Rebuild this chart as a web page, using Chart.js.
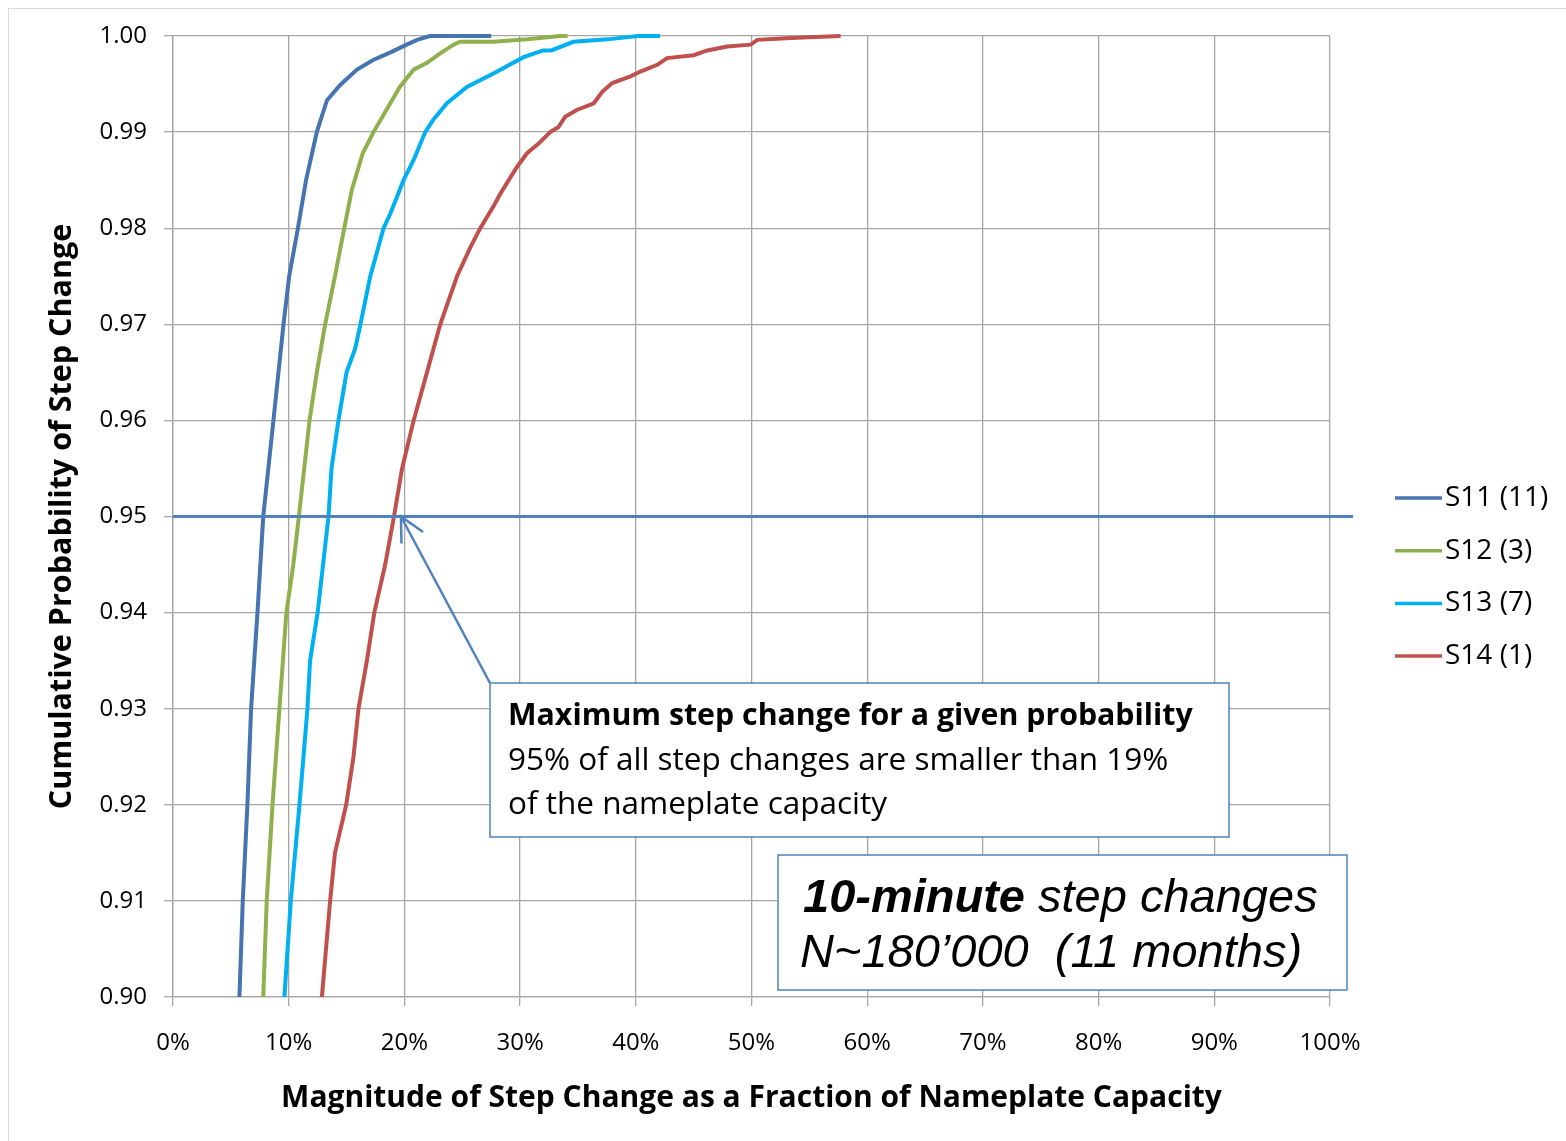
<!DOCTYPE html>
<html>
<head>
<meta charset="utf-8">
<script src="https://cdn.jsdelivr.net/npm/chart.js@4.4.1/dist/chart.umd.min.js"></script>
<style>
  html, body { margin: 0; padding: 0; background: #fff; overflow: hidden; }
  #wrap { position: relative; width: 1566px; height: 1141px; }
  #frame { position: absolute; left: 8px; top: 8px; width: 1700px; height: 1300px;
           border: 1px solid #D9D9D9; box-sizing: border-box; }
  canvas { position: absolute; left: 0; top: 0; }
</style>
</head>
<body>
<div id="wrap">
  <div id="frame"></div>
  <canvas id="chart" width="1566" height="1141"></canvas>
</div>
<script>
// Cumulative distributions of 10-minute step changes per site
const seriesNames = ['S11 (11)', 'S12 (3)', 'S13 (7)', 'S14 (1)'];

const s11Step = [0.0574, 0.0603, 0.0643, 0.0675, 0.073, 0.078, 0.0868, 0.0955, 0.1004, 0.108, 0.115, 0.1243, 0.133, 0.1445, 0.159, 0.173, 0.188, 0.202, 0.211, 0.222, 0.275];
const s11Prob = [0.90, 0.91, 0.92, 0.93, 0.94, 0.95, 0.96, 0.97, 0.975, 0.98, 0.985, 0.99, 0.9933, 0.9949, 0.9965, 0.9975, 0.9983, 0.9991, 0.9996, 1.0, 1.0];

const s12Step = [0.078, 0.081, 0.086, 0.092, 0.098, 0.104, 0.1088, 0.118, 0.1243, 0.1315, 0.140, 0.148, 0.1546, 0.164, 0.1733, 0.1878, 0.196, 0.208, 0.2195, 0.231, 0.2425, 0.248, 0.277, 0.306, 0.335, 0.341];
const s12Prob = [0.90, 0.91, 0.92, 0.93, 0.94, 0.945, 0.95, 0.96, 0.965, 0.97, 0.975, 0.98, 0.984, 0.9878, 0.99, 0.993, 0.9947, 0.9965, 0.9972, 0.9982, 0.9991, 0.9994, 0.9994, 0.99965, 1.0, 1.0];

const s13Step = [0.0963, 0.1018, 0.1093, 0.1128, 0.1162, 0.1185, 0.125, 0.1344, 0.137, 0.143, 0.150, 0.1575, 0.162, 0.1705, 0.182, 0.1878, 0.1993, 0.208, 0.218, 0.225, 0.2368, 0.254, 0.277, 0.303, 0.320, 0.327, 0.346, 0.3755, 0.4015, 0.421];
const s13Prob = [0.90, 0.91, 0.92, 0.925, 0.93, 0.935, 0.94, 0.95, 0.955, 0.96, 0.965, 0.9675, 0.97, 0.975, 0.98, 0.9815, 0.985, 0.9871, 0.99, 0.9913, 0.993, 0.9947, 0.9961, 0.9978, 0.9985, 0.9985, 0.9994, 0.99965, 1.0, 1.0];

const s14Step = [0.1287, 0.1358, 0.140, 0.1497, 0.156, 0.1603, 0.1676, 0.174, 0.1834, 0.191, 0.198, 0.208, 0.2195, 0.231, 0.2455, 0.257, 0.2656, 0.278, 0.283, 0.2974, 0.306, 0.316, 0.326, 0.333, 0.339, 0.349, 0.3637, 0.371, 0.3796, 0.3954, 0.404, 0.4185, 0.427, 0.45, 0.4618, 0.479, 0.4993, 0.505, 0.534, 0.577];
const s14Prob = [0.90, 0.91, 0.915, 0.92, 0.925, 0.93, 0.935, 0.94, 0.945, 0.95, 0.955, 0.96, 0.965, 0.97, 0.975, 0.978, 0.98, 0.9825, 0.9836, 0.9864, 0.9878, 0.9888, 0.99, 0.9905, 0.9916, 0.9923, 0.993, 0.9942, 0.9951, 0.9958, 0.9963, 0.997, 0.9977, 0.998, 0.9985, 0.9989, 0.9991, 0.9996, 0.9998, 1.0];

// 95 % reference level and the point the call-out arrow marks
const refProbability = 0.95;
const refLineSpan = [0, 1.02];
const arrowTip = { step: 0.197, prob: 0.95 };

const xAxisTitle = 'Magnitude of Step Change as a Fraction of Nameplate Capacity';
const yAxisTitle = 'Cumulative Probability of Step Change';
const calloutTitle = 'Maximum step change for a given probability';
const calloutLines = ['95% of all step changes are smaller than 19%', 'of the nameplate capacity'];

const colors = ['#4674B0', '#8FB04C', '#00B0F0', '#C0504D'];
const refColor = '#4F81BD';
const gridColor = '#A6A6A6';
const calibriLike = "'Open Sans', 'Noto Sans', sans-serif";

const toPoints = (xs, ys) => xs.map((v, i) => ({ x: v, y: ys[i] }));
const seriesData = [
  toPoints(s11Step, s11Prob),
  toPoints(s12Step, s12Prob),
  toPoints(s13Step, s13Prob),
  toPoints(s14Step, s14Prob)
];

const datasets = [{
  label: 'ref',
  data: refLineSpan.map(v => ({ x: v, y: refProbability })),
  borderColor: refColor,
  borderWidth: 3,
  pointRadius: 0,
  clip: false
}].concat(seriesData.map((d, i) => ({
  label: seriesNames[i],
  data: d,
  borderColor: colors[i],
  borderWidth: 4,
  pointRadius: 0,
  tension: 0,
  clip: false
})));

// legend, call-out boxes and arrow
const overlay = {
  id: 'overlay',
  afterDatasetsDraw(chart) {
    const { ctx, chartArea, scales: { x, y } } = chart;
    ctx.save();

    // legend
    const lx = chartArea.right + 65;
    seriesNames.forEach((name, i) => {
      const ly = 498 + i * 52.7;
      ctx.strokeStyle = colors[i];
      ctx.lineWidth = 3.5;
      ctx.beginPath();
      ctx.moveTo(lx, ly);
      ctx.lineTo(lx + 47, ly);
      ctx.stroke();
      ctx.fillStyle = '#000';
      ctx.font = `28px ${calibriLike}`;
      ctx.textBaseline = 'middle';
      ctx.textAlign = 'left';
      ctx.fillText(name, lx + 50, ly);
    });

    // arrow from call-out to the 95 % crossing
    const tx = x.getPixelForValue(arrowTip.step);
    const ty = y.getPixelForValue(arrowTip.prob);
    const bx = 490, by = 683;
    ctx.strokeStyle = refColor;
    ctx.lineWidth = 2.5;
    ctx.beginPath();
    ctx.moveTo(bx, by);
    ctx.lineTo(tx, ty);
    ctx.stroke();
    const ang = Math.atan2(by - ty, bx - tx);
    const head = 27, spread = 0.47;
    ctx.beginPath();
    ctx.moveTo(tx + head * Math.cos(ang - spread), ty + head * Math.sin(ang - spread));
    ctx.lineTo(tx, ty);
    ctx.lineTo(tx + head * Math.cos(ang + spread), ty + head * Math.sin(ang + spread));
    ctx.stroke();

    // call-out box
    ctx.fillStyle = '#fff';
    ctx.fillRect(490, 683, 739, 154);
    ctx.lineWidth = 1.5;
    ctx.strokeRect(490, 683, 739, 154);
    ctx.fillStyle = '#000';
    ctx.textBaseline = 'alphabetic';
    ctx.font = `bold 30.3px ${calibriLike}`;
    ctx.fillText(calloutTitle, 508, 725);
    ctx.font = `31.5px ${calibriLike}`;
    ctx.fillText(calloutLines[0], 508, 770);
    ctx.fillText(calloutLines[1], 508, 814);

    // sample description box
    ctx.fillStyle = '#fff';
    ctx.fillRect(778, 855, 569, 135);
    ctx.strokeStyle = refColor;
    ctx.strokeRect(778, 855, 569, 135);
    ctx.fillStyle = '#000';
    ctx.font = "italic bold 47px 'Liberation Sans', Arial, sans-serif";
    const boldPart = '10-minute';
    ctx.fillText(boldPart, 803, 912);
    const w = ctx.measureText(boldPart).width;
    ctx.font = "italic 47px 'Liberation Sans', Arial, sans-serif";
    ctx.fillText(' step changes', 803 + w, 912);
    ctx.fillText('N~180\u2019000  (11 months)', 800, 967);

    ctx.restore();
  }
};

new Chart(document.getElementById('chart'), {
  type: 'line',
  data: { datasets },
  options: {
    responsive: false,
    animation: false,
    events: [],
    layout: { padding: { left: 0, top: 36, right: 236, bottom: 0 } },
    plugins: { legend: { display: false }, tooltip: { enabled: false } },
    scales: {
      x: {
        type: 'linear',
        min: 0, max: 1,
        ticks: {
          stepSize: 0.1,
          autoSkip: false,
          maxRotation: 0,
          padding: 23,
          color: '#000',
          font: { family: calibriLike, size: 24 },
          callback: v => Math.round(v * 100) + '%'
        },
        grid: { color: gridColor, lineWidth: 1.3, tickLength: 9 },
        border: { color: gridColor, width: 1.3 },
        title: {
          display: true,
          text: xAxisTitle,
          color: '#000',
          font: { family: calibriLike, size: 30, weight: 'bold' },
          padding: { top: 0, bottom: 25 }
        },
        afterFit: s => { s.height = 144; }
      },
      y: {
        type: 'linear',
        min: 0.9, max: 1.0,
        ticks: {
          stepSize: 0.01,
          padding: 17,
          color: '#000',
          font: { family: calibriLike, size: 24 },
          callback: v => v.toFixed(2)
        },
        grid: { color: gridColor, lineWidth: 1.3, tickLength: 9 },
        border: { color: gridColor, width: 1.3 },
        title: {
          display: true,
          text: yAxisTitle,
          color: '#000',
          font: { family: calibriLike, size: 30.5, weight: 'bold' },
          padding: { top: 44, bottom: 0 }
        },
        afterFit: s => { s.width = 173; }
      }
    }
  },
  plugins: [overlay]
});
</script>
</body>
</html>
